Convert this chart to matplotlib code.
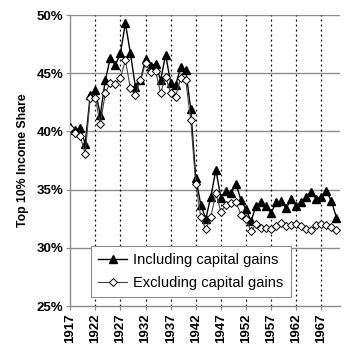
import matplotlib
matplotlib.use("Agg")
import matplotlib.pyplot as plt
from matplotlib.ticker import FuncFormatter

plt.rcParams['font.family'] = ['Liberation Sans', 'DejaVu Sans']

years = list(range(1917, 1971))
incl = [40.4, 40.1, 40.3, 38.95, 43.1, 43.6, 41.4, 44.4, 46.3, 45.7,
        46.7, 49.3, 46.7, 43.8, 44.4, 46.2, 45.6, 45.8, 44.4, 46.6,
        44.2, 44.0, 45.5, 45.3, 41.9, 36.0, 33.7, 32.5, 34.4, 36.7,
        34.3, 34.9, 34.7, 35.5, 34.1, 33.3, 32.3, 33.6, 33.9, 33.6,
        33.0, 33.9, 34.0, 33.4, 34.2, 33.6, 33.9, 34.4, 34.8, 34.2,
        34.4, 34.9, 34.0, 32.6]
excl = [40.3, 39.9, 39.6, 38.1, 42.9, 42.9, 40.6, 43.3, 44.2, 44.1,
        44.6, 46.1, 43.7, 43.1, 44.4, 45.9, 45.1, 45.2, 43.3, 44.7,
        43.3, 43.0, 44.6, 44.4, 41.0, 35.5, 32.65, 31.6, 32.65, 34.7,
        33.1, 33.7, 33.85, 33.9, 32.86, 32.45, 31.43, 32.08, 31.75, 31.72,
        31.63, 31.92, 32.1, 31.86, 32.0, 32.09, 31.86, 31.63, 31.52, 32.0,
        32.06, 32.0, 31.78, 31.5]
xtick_years = list(range(1917, 1968, 5))
yticks = [25, 30, 35, 40, 45, 50]

fig = plt.figure(figsize=(3.56, 3.58), dpi=100)
ax = fig.add_axes([0.197, 0.145, 0.758, 0.813])

for y in yticks[1:]:
    ax.axhline(y, color='#8c8c8c', lw=1.0, zorder=1)
for x in xtick_years[1:]:
    ax.axvline(x, color='black', lw=0.9, ls=(0, (1.5, 2.5)), zorder=1)

ax.plot(years, incl, color='black', lw=1.0, marker='^', ms=5.5,
        mfc='black', mec='black', label='Including capital gains', zorder=3)
ax.plot(years, excl, color='#444444', lw=0.8, marker='D', ms=3.8,
        mfc='white', mec='black', mew=0.7, label='Excluding capital gains', zorder=4)

ax.set_xlim(1917, 1970.7)
ax.set_ylim(25, 50)
ax.set_xticks(xtick_years)
ax.set_xticklabels([str(y) for y in xtick_years], rotation=90, fontsize=9.5, fontweight='bold')
ax.set_yticks(yticks)
ax.yaxis.set_major_formatter(FuncFormatter(lambda v, p: f"{int(v)}%"))
for lab in ax.get_yticklabels():
    lab.set_fontweight('bold')
    lab.set_fontsize(9.5)
ax.set_ylabel('Top 10% Income Share', fontsize=8.8, fontweight='bold', labelpad=5)

for s in ['top', 'right']:
    ax.spines[s].set_visible(False)
for s in ['left', 'bottom']:
    ax.spines[s].set_color('#8c8c8c')
    ax.spines[s].set_linewidth(1.0)
ax.tick_params(axis='both', length=3, color='#8c8c8c', pad=2)

leg = ax.legend(loc='lower left', bbox_to_anchor=(0.077, 0.031), borderaxespad=0,
                fontsize=10.5, frameon=True, fancybox=False, handlelength=2.0,
                labelspacing=0.6, borderpad=0.5, handletextpad=0.4)
leg.get_frame().set_edgecolor('#8c8c8c')
leg.get_frame().set_linewidth(0.8)
leg.get_frame().set_alpha(1)
leg.set_zorder(5)

fig.savefig('out.png', dpi=100)
